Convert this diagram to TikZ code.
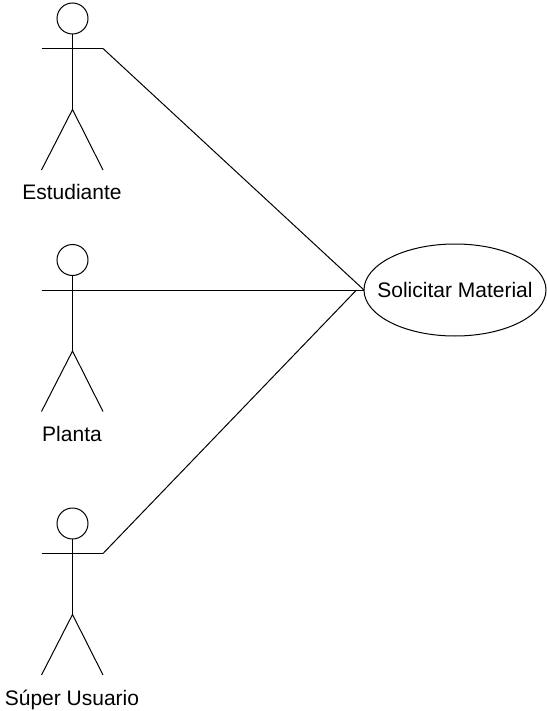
\documentclass[tikz,border=0pt]{standalone}
\usepackage{fontspec}
\setmainfont{Liberation Sans}
\usetikzlibrary{shapes.geometric}
\tikzset{
  x=1pt,y=-1pt,
  stick/.style={draw=black,line width=1pt},
  head/.style={circle,draw=black,line width=1pt,minimum size=31pt,inner sep=0pt,outer sep=0pt},
  usecase/.style={ellipse,draw=black,line width=1pt,minimum width=182pt,minimum height=92pt,inner sep=0pt,outer sep=0pt},
  lbl/.style={font=\fontsize{21}{25}\selectfont,text=black,inner sep=0pt,anchor=base}
}
\newcommand{\actor}[4]{%
  % #1 name, #2 head centre y, #3 label, #4 label baseline y
  \node[head] (#1head) at (72.5,#2) {};
  \coordinate (#1arml) at (41.5,#2+30);
  \coordinate (#1armr) at (103,#2+30);
  \coordinate (#1hip) at (72.5,#2+91);
  \coordinate (#1footl) at (41.5,#2+151.5);
  \coordinate (#1footr) at (103,#2+151.5);
  \draw[stick] (#1head.south) -- (#1hip);
  \draw[stick] (#1arml) -- (#1armr);
  \draw[stick] (#1footl) -- (#1hip) -- (#1footr);
  \node[lbl] (#1label) at (72,#4) {#3};
}
\begin{document}
\begin{tikzpicture}
  \useasboundingbox (0,0) rectangle (546,711);
  \actor{a}{18.5}{Estudiante}{200}
  \actor{b}{260}{Planta}{441}
  \actor{c}{523.5}{Súper Usuario}{705}
  \node[usecase] (uc) at (455,290) {};
  \node[lbl] (uctext) at (455,297) {Solicitar Material};
  \coordinate (join) at (356.5,290);
  \draw[stick] (aarmr) -- (uc.west);
  \draw[stick] (barmr) -- (uc.west);
  \draw[stick] (carmr) -- (join);
\end{tikzpicture}
\end{document}
